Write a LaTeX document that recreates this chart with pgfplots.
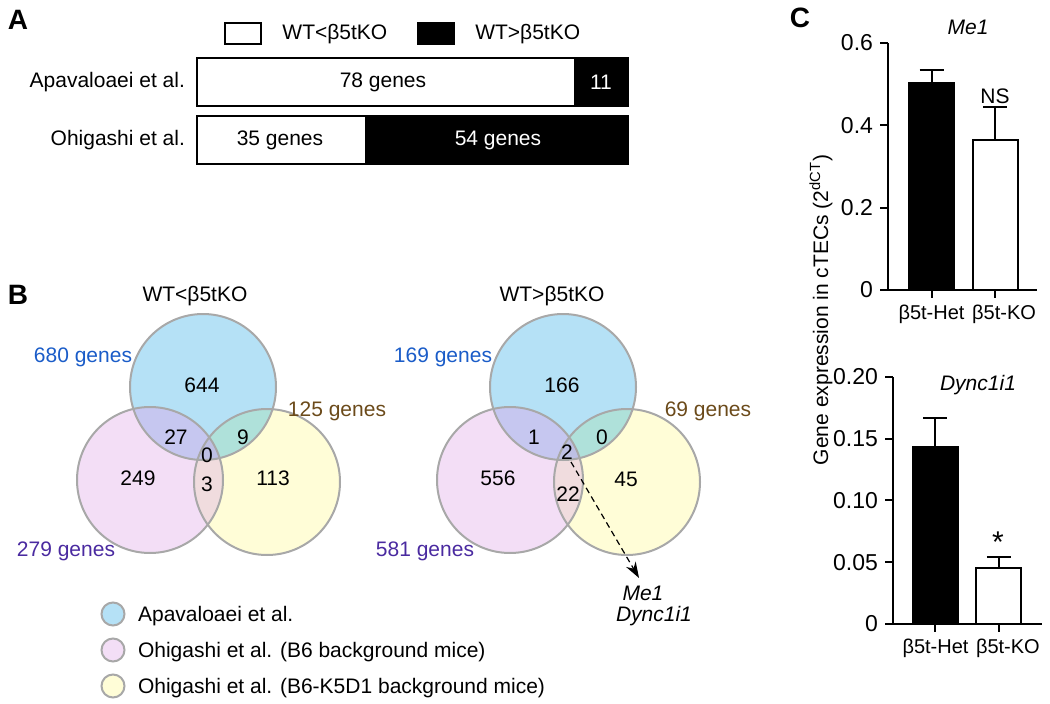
\documentclass[border=0pt]{standalone}
\usepackage{fontspec}
\setmainfont{Liberation Sans}
\usepackage{pgfplots}
\pgfplotsset{compat=1.18}
\usetikzlibrary{arrows.meta}

\definecolor{vblue}{RGB}{181,225,246}
\definecolor{vpink}{RGB}{243,222,246}
\definecolor{vyel}{RGB}{255,253,215}
\definecolor{vbp}{RGB}{198,199,240}
\definecolor{vby}{RGB}{175,225,218}
\definecolor{vpy}{RGB}{240,220,222}
\definecolor{vall}{RGB}{190,192,228}
\definecolor{vedge}{RGB}{168,168,168}
\definecolor{tblue}{RGB}{26,92,200}
\definecolor{tbrown}{RGB}{107,74,26}
\definecolor{tpurple}{RGB}{74,42,160}

% Venn: x of the blue, pink and yellow centres (canvas px)
\newcommand\venn[3]{%
  \fill[vblue] (axis cs:#1,387) circle[radius=36.5pt];
  \fill[vpink] (axis cs:#2,480) circle[radius=36.5pt];
  \fill[vyel]  (axis cs:#3,482) circle[radius=36.5pt];
  \begin{scope}
    \clip (axis cs:#1,387) circle[radius=36.5pt];
    \fill[vbp] (axis cs:#2,480) circle[radius=36.5pt];
    \fill[vby] (axis cs:#3,482) circle[radius=36.5pt];
  \end{scope}
  \begin{scope}
    \clip (axis cs:#2,480) circle[radius=36.5pt];
    \fill[vpy] (axis cs:#3,482) circle[radius=36.5pt];
    \clip (axis cs:#1,387) circle[radius=36.5pt];
    \fill[vall] (axis cs:#3,482) circle[radius=36.5pt];
  \end{scope}
  \draw[vedge, line width=1pt] (axis cs:#1,387) circle[radius=36.5pt];
  \draw[vedge, line width=1pt] (axis cs:#2,480) circle[radius=36.5pt];
  \draw[vedge, line width=1pt] (axis cs:#3,482) circle[radius=36.5pt];
}

\pgfplotsset{
  cbar/.style={
    scale only axis, width=74.5pt, height=123.5pt, anchor=south west,
    axis x line=bottom, axis y line=left,
    axis line style={-, line width=1pt, black},
    tick align=outside, major tick length=4pt,
    tick style={line width=1pt, black},
    ybar, bar width=22.5pt, bar shift=0pt, ymin=0, clip=false,
    xtick={0,1}, xticklabels={β5t-Het,\hspace{9pt}β5t-KO},
    x tick label style={font=\fontsize{10}{12}\selectfont},
    y tick label style={font=\fontsize{11.5}{13}\selectfont},
    error bars/y dir=plus, error bars/y explicit,
    error bars/error bar style={line width=1pt, black},
    error bars/error mark options={rotate=90, mark size=6pt, line width=1pt, black},
  },
}

\begin{document}
\begin{tikzpicture}[x=0.5pt, y=-0.5pt, font=\fontsize{10.5}{12.6}\selectfont]
\path[use as bounding box] (0,0) rectangle (1050,704);

% panel A
\begin{axis}[at={(98.5pt,-26.5pt)}, anchor=north west, scale only axis,
    width=215.5pt, height=58pt,
    xbar stacked, bar width=24pt,
    xmin=0, xmax=89, ymin=-0.5, ymax=1.5,
    axis line style={draw=none}, major tick length=0pt,
    xtick=\empty, ytick={0,1},
    yticklabels={Ohigashi et al., Apavaloaei et al.},
    yticklabel style={xshift=-2.5pt},
    clip=false,
    legend style={at={(0.481,1.172)}, anchor=center, draw=none, fill=none,
      legend columns=2, inner sep=0pt,
      /tikz/every even column/.append style={column sep=13pt}},
    legend image code/.code={\draw[#1] (0pt,-5.25pt) rectangle (18pt,5.25pt);
      \path (26pt,0pt);},
]
\addplot[fill=white, draw=black, line width=1pt] coordinates {(78,1) (35,0)};
\addplot[fill=black, draw=black, line width=1pt] coordinates {(11,1) (54,0)};
\legend{WT<β5tKO, WT>β5tKO}
\end{axis}

% panel C, top
\begin{axis}[cbar, at={(444pt,-145pt)}, xmin=-0.685, xmax=1.66, ymax=0.6,
    ytick={0,0.2,0.4,0.6}, yticklabels={0,0.2,0.4,0.6}]
\addplot[fill=black, draw=black, line width=1pt] coordinates {(0,0.503) +- (0,0.031)};
\addplot[fill=white, draw=black, line width=1pt] coordinates {(1,0.364) +- (0,0.081)};
\end{axis}

% panel C, bottom
\begin{axis}[cbar, at={(446.5pt,-312pt)}, xmin=-0.67, xmax=1.68, ymax=0.2,
    ytick={0,0.05,0.1,0.15,0.2}, yticklabels={0,0.05,0.10,0.15,0.20}]
\addplot[fill=black, draw=black, line width=1pt] coordinates {(0,0.143) +- (0,0.024)};
\addplot[fill=white, draw=black, line width=1pt] coordinates {(1,0.045) +- (0,0.0095)};
\end{axis}

% canvas in pixel units: Venn diagrams and free text
\begin{axis}[at={(0pt,0pt)}, anchor=north west, x=0.5pt, y=0.5pt,
    xmin=0, xmax=1050, ymin=0, ymax=704, y dir=reverse,
    hide axis, clip=false]
\pgfplotsextra{\venn{203}{150}{267}\venn{563}{510}{627}}

\node[font=\fontsize{14}{16}\selectfont\bfseries] at (axis cs:18,20) {A};
\node[font=\fontsize{14}{16}\selectfont\bfseries] at (axis cs:18,295) {B};
\node[font=\fontsize{14}{16}\selectfont\bfseries] at (axis cs:800,18) {C};

% labels in the panel A bars
\node at (axis cs:383,82) {78 genes};
\node[white] at (axis cs:601,82) {11};
\node at (axis cs:280,140) {35 genes};
\node[white] at (axis cs:498,140) {54 genes};

% left Venn
\node at (axis cs:195,296) {WT<β5tKO};
\node[tblue] at (axis cs:83,357) {680 genes};
\node[tbrown] at (axis cs:337,411) {125 genes};
\node[tpurple] at (axis cs:66,551) {279 genes};
\node at (axis cs:202,385) {644};
\node at (axis cs:176,437) {27};
\node at (axis cs:243,437) {9};
\node at (axis cs:207,455) {0};
\node at (axis cs:138,478) {249};
\node at (axis cs:207,484) {3};
\node at (axis cs:273,478) {113};

% right Venn
\node at (axis cs:552,296) {WT>β5tKO};
\node[tblue] at (axis cs:443,357) {169 genes};
\node[tbrown] at (axis cs:708,411) {69 genes};
\node[tpurple] at (axis cs:425,551) {581 genes};
\node at (axis cs:562,385) {166};
\node at (axis cs:534,437) {1};
\node at (axis cs:602,437) {0};
\node at (axis cs:567,452) {2};
\node at (axis cs:498,478) {556};
\node at (axis cs:568,494) {22};
\node at (axis cs:626,479) {45};
\draw[dashed, dash pattern=on 3pt off 2pt, line width=0.6pt,
      -{Stealth[length=8pt, width=5.5pt]}] (axis cs:571,462) -- (axis cs:639,578);
\node at (axis cs:643,593) {\itshape Me1};
\node at (axis cs:654,616) {\itshape Dync1i1};

% Venn key
\draw[vedge, line width=1pt, fill=vblue] (axis cs:113,614) circle[radius=5.75pt];
\draw[vedge, line width=1pt, fill=vpink] (axis cs:113,650) circle[radius=5.75pt];
\draw[vedge, line width=1pt, fill=vyel] (axis cs:113,686) circle[radius=5.75pt];
\node[anchor=west] at (axis cs:131,616) {Apavaloaei et al.};
\node[anchor=west] at (axis cs:131,652) {Ohigashi et al. (B6 background mice)};
\node[anchor=west] at (axis cs:131,688) {Ohigashi et al. (B6-K5D1 background mice)};

% panel C text
\node at (axis cs:968,27) {\itshape Me1};
\node at (axis cs:978,385) {\itshape Dync1i1};
\node[rotate=90] at (axis cs:821,310) {Gene expression in cTECs (2\textsuperscript{dCT})};
\node at (axis cs:995,96) {NS};
\node[anchor=base, font=\fontsize{15}{17}\selectfont] at (axis cs:998,552) {*};
\end{axis}
\end{tikzpicture}
\end{document}
